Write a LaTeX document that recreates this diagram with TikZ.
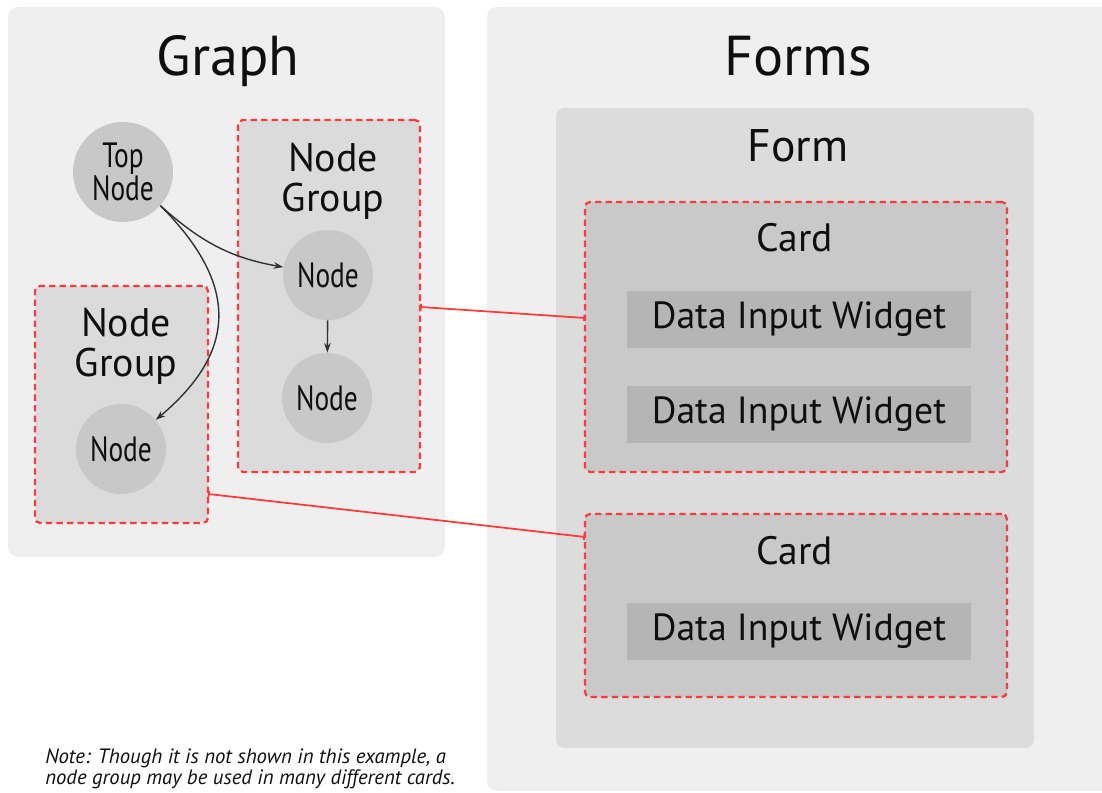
\documentclass[tikz,border=0pt]{standalone}
\usepackage{fontspec}
\setmainfont{PT Sans}
\newfontfamily\narrowfont{PT Sans}[FakeStretch=0.78]
\usepackage{tikz}
\usetikzlibrary{arrows.meta, calc}
\definecolor{panelgray}{RGB}{239,239,239}
\definecolor{formgray}{RGB}{220,220,220}
\definecolor{groupgray}{RGB}{219,219,219}
\definecolor{cardgray}{RGB}{201,201,201}
\definecolor{widgetgray}{RGB}{181,181,181}
\definecolor{circlegray}{RGB}{200,200,200}
\definecolor{linkred}{RGB}{255,58,58}
\definecolor{inkblack}{RGB}{15,15,15}
\tikzset{
  panelbox/.style={rectangle,rounded corners=0.2cm,fill=panelgray,anchor=north west,inner sep=0pt,outer sep=0pt},
  formbox/.style={panelbox,fill=formgray,rounded corners=0.16cm},
  dashbox/.style={rectangle,rounded corners=0.1cm,anchor=north west,inner sep=0pt,outer sep=0pt,
    draw=linkred,line width=1.3pt,dash pattern=on 3.6pt off 2.4pt},
  groupbox/.style={dashbox,fill=groupgray},
  cardbox/.style={dashbox,fill=cardgray},
  widgetbox/.style={rectangle,fill=widgetgray,minimum width=6.88cm,minimum height=1.14cm,inner sep=0pt,
    font=\fontsize{21.5}{22}\selectfont,text=inkblack},
  graphnode/.style={circle,fill=circlegray,minimum size=1.8cm,inner sep=0pt,align=center,
    font=\narrowfont\fontsize{20}{21}\selectfont,text=inkblack},
  bigtitle/.style={anchor=base,font=\fontsize{32}{32}\selectfont,text=inkblack},
  midtitle/.style={anchor=base,font=\fontsize{26}{26}\selectfont,text=inkblack},
  cardtitle/.style={anchor=base,font=\fontsize{22.5}{22.5}\selectfont,text=inkblack},
  grouptitle/.style={anchor=base,align=center,font=\fontsize{22.7}{23.2}\selectfont,text=inkblack},
  arr/.style={-{Stealth[length=5.5pt,width=3.8pt]},line width=0.8pt,color=black!80},
  linkline/.style={{Bar[width=3.5pt]}-{Bar[width=3.5pt]},line width=1pt,color=linkred}
}

\begin{document}
\begin{tikzpicture}[x=0.02cm,y=-0.02cm]
  \useasboundingbox (0,0) rectangle (1102,793);
  \clip (0,0) rectangle (1102,793);

  %% Panels
  \node[panelbox,minimum width=8.74cm,minimum height=11cm] (graphpanel) at (8,7) {};
  \node[panelbox,minimum width=12.8cm,minimum height=15.68cm] (formspanel) at (487,7) {};
  \node[formbox,minimum width=9.56cm,minimum height=12.8cm] (form) at (556,108) {};

  \node[bigtitle] (graphtitle) at (228,76) {Graph};
  \node[bigtitle] (formstitle) at (798,76) {Forms};
  \node[midtitle] (formtitle) at (798,162) {Form};

  %% Cards
  \node[cardbox,minimum width=8.44cm,minimum height=5.4cm] (card1) at (585,202) {};
  \node[cardbox,minimum width=8.44cm,minimum height=3.66cm] (card2) at (585,514) {};
  \node[cardtitle] (card1title) at (795,252) {Card};
  \node[cardtitle] (card2title) at (795,564) {Card};

  \node[widgetbox] (widget1) at (799,319.5) {Data Input Widget};
  \node[widgetbox] (widget2) at (799,414.5) {Data Input Widget};
  \node[widgetbox] (widget3) at (799,631.5) {Data Input Widget};

  %% Node groups
  \node[groupbox,minimum width=3.64cm,minimum height=7.04cm] (groupR) at (238,120) {};
  \node[groupbox,minimum width=3.46cm,minimum height=4.74cm] (groupL) at (35,286) {};
  \node[grouptitle] (groupRtitle) at (333,212) {Node\\Group};
  \node[grouptitle] (groupLtitle) at (126,377) {Node\\Group};

  %% Graph nodes
  \node[graphnode,minimum size=2cm] (topnode) at (123,172) {Top\\[-2pt]Node};
  \node[graphnode] (nodeR1) at (328,275) {Node};
  \node[graphnode] (nodeR2) at (327,398) {Node};
  \node[graphnode] (nodeL) at (121,449) {Node};

  \draw[arr] (topnode.-42) to[out=-42,in=170] (nodeR1);
  \draw[arr] (topnode.-42) to[out=-45,in=40,looseness=1.3] (nodeL);
  \draw[arr] (nodeR1) -- (nodeR2);

  %% Links from groups to cards
  \draw[linkline] ([yshift=-0.22cm]groupR.east) -- ([yshift=0.38cm]card1.west);
  \draw[linkline] ([yshift=-1.79cm]groupL.east) -- ([yshift=1.37cm]card2.west);

  %% Note
  \node[anchor=base west,align=left,inner sep=0pt,text=inkblack,
        font=\itshape\fontsize{11.8}{10.6}\selectfont] (note) at (45,784)
      {Note: Though it is not shown in this example, a\\
       node group may be used in many different cards.};
\end{tikzpicture}
\end{document}
